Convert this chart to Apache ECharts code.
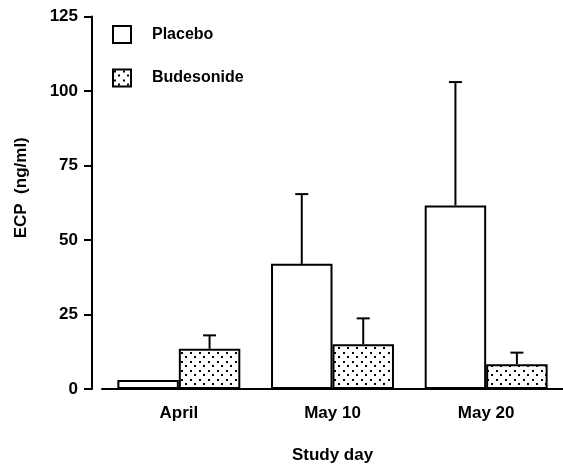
<!DOCTYPE html>
<html>
<head>
<meta charset="utf-8">
<script src="https://cdn.jsdelivr.net/npm/echarts@6/dist/echarts.min.js"></script>
<style>
html,body{margin:0;padding:0;background:#fff;}
#chart{width:563px;height:469px;}
</style>
</head>
<body>
<div id="chart"></div>
<script>
const categories = ['April', 'May 10', 'May 20'];
const placebo = [3, 42, 61.6];
const placeboErrTop = [null, 65.4, 103];
const budesonide = [13.5, 15, 8.3];
const budesonideErrTop = [18, 23.7, 12.2];
const yTicks = [0, 25, 50, 75, 100, 125];

const FONT = '"Liberation Sans", Arial, Helvetica, sans-serif';

const pc = document.createElement('canvas');
pc.width = 9; pc.height = 9;
const pctx = pc.getContext('2d');
pctx.fillStyle = '#fff';
pctx.fillRect(0, 0, 9, 9);
pctx.fillStyle = '#000';
pctx.fillRect(1, 1, 2, 2);
pctx.fillRect(5, 5, 2, 2);

const BAR_FRAC = 0.4;

function errSeries(name, tops, vals, sign) {
  const data = [];
  tops.forEach((t, i) => { if (t != null) data.push([i, vals[i], t]); });
  return {
    name: name,
    type: 'custom',
    z: 1,
    silent: true,
    renderItem: function (params, api) {
      const base = api.coord([api.value(0), api.value(1)]);
      const top = api.coord([api.value(0), api.value(2)]);
      const band = api.size([1, 0])[0];
      const x = base[0] + sign * band * BAR_FRAC / 2;
      const style = { stroke: '#000', lineWidth: 2, fill: null };
      return {
        type: 'group',
        children: [
          { type: 'line', shape: { x1: x, y1: base[1], x2: x, y2: top[1] }, style: style },
          { type: 'line', shape: { x1: x - 6.5, y1: top[1], x2: x + 6.5, y2: top[1] }, style: style }
        ]
      };
    },
    data: data
  };
}

const chart = echarts.init(document.getElementById('chart'), null, { renderer: 'canvas' });
chart.setOption({
  animation: false,
  backgroundColor: '#fff',
  textStyle: { fontFamily: FONT },
  grid: { left: 102, right: -3, top: 16.5, bottom: 80 },
  legend: {
    data: ['Placebo', 'Budesonide'],
    orient: 'vertical',
    left: 107,
    top: 20,
    padding: 5,
    itemWidth: 18,
    itemHeight: 17,
    itemGap: 24.5,
    icon: 'rect',
    textStyle: { fontFamily: FONT, fontSize: 16, fontWeight: 'bold', color: '#000', padding: [0, 0, 0, 16] }
  },
  xAxis: {
    type: 'category',
    data: categories,
    name: 'Study day',
    nameLocation: 'middle',
    nameGap: 58,
    nameTextStyle: { fontFamily: FONT, fontSize: 17, fontWeight: 'bold', color: '#000' },
    axisLine: { lineStyle: { color: '#000', width: 2 } },
    axisTick: { alignWithLabel: true, length: 9, lineStyle: { color: '#000', width: 2 } },
    axisLabel: { margin: 16, fontFamily: FONT, fontSize: 17, fontWeight: 'bold', color: '#000' }
  },
  yAxis: {
    type: 'value',
    min: 0,
    max: 125,
    interval: 25,
    offset: 10,
    name: 'ECP  (ng/ml)',
    nameLocation: 'middle',
    nameGap: 62,
    nameTextStyle: { fontFamily: FONT, fontSize: 17, fontWeight: 'bold', color: '#000', padding: [0, 0, 0, 30] },
    splitLine: { show: false },
    axisLine: { show: true, lineStyle: { color: '#000', width: 2 } },
    axisTick: { show: true, length: 8, lineStyle: { color: '#000', width: 2 } },
    axisLabel: {
      margin: 14, fontFamily: FONT, fontSize: 17, fontWeight: 'bold', color: '#000',
      formatter: function (v) { return yTicks.indexOf(v) >= 0 ? String(v) : ''; }
    }
  },
  series: [
    {
      name: 'Placebo', type: 'bar', data: placebo,
      barWidth: '40%', barGap: '0%', z: 2,
      itemStyle: { color: '#fff', borderColor: '#000', borderWidth: 2 }
    },
    {
      name: 'Budesonide', type: 'bar', data: budesonide,
      barWidth: '40%', barGap: '0%', z: 2,
      itemStyle: { color: { image: pc, repeat: 'repeat' }, borderColor: '#000', borderWidth: 2 }
    },
    errSeries('PlaceboErr', placeboErrTop, placebo, -1),
    errSeries('BudesonideErr', budesonideErrTop, budesonide, 1)
  ]
});
</script>
</body>
</html>
